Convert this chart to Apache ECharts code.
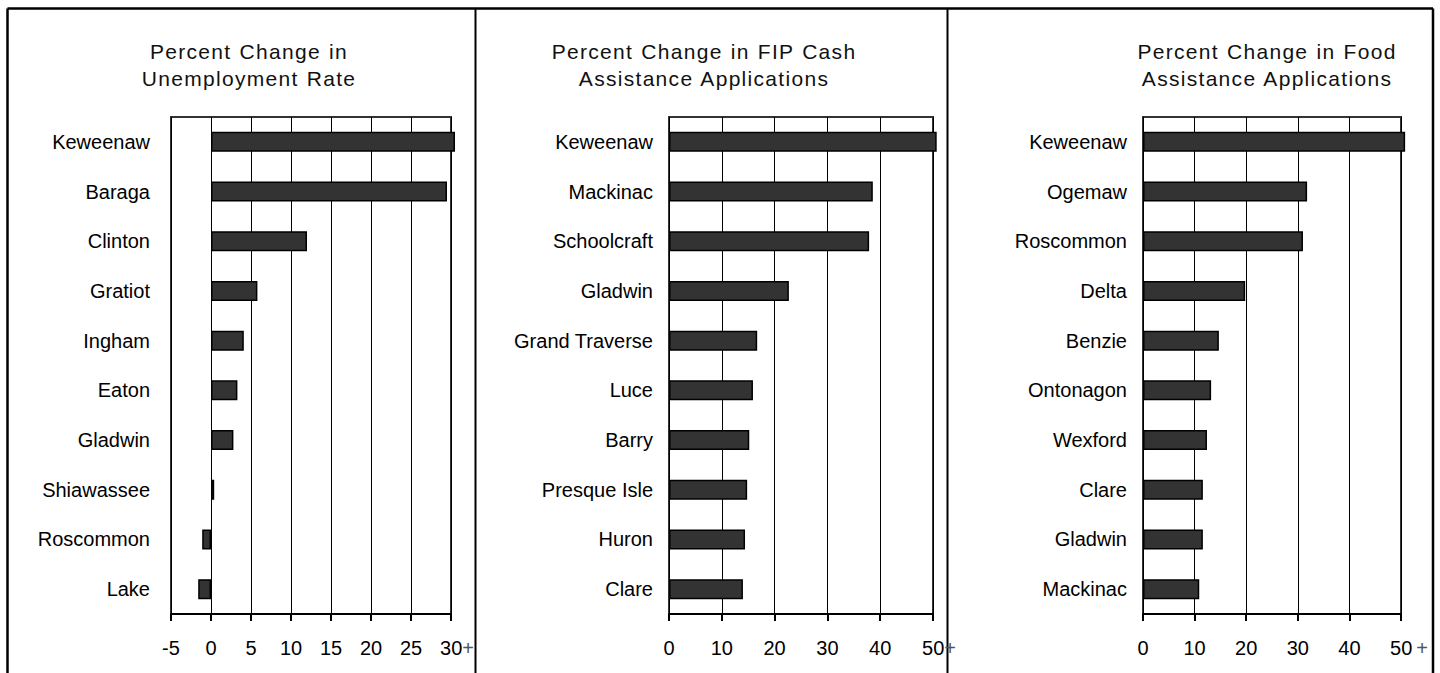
<!DOCTYPE html>
<html>
<head>
<meta charset="utf-8">
<script src="https://cdn.jsdelivr.net/npm/echarts@6/dist/echarts.min.js"></script>
<style>
html,body{margin:0;padding:0;background:#fff;}
#c{width:1440px;height:673px;}
#c text[style*="Liberation Sans"]{letter-spacing:1.3px;word-spacing:1px;}
</style>
</head>
<body>
<div id="c"></div>
<script>
// ---- Data ----
const titles = [
  "Percent Change in\nUnemployment Rate",
  "Percent Change in FIP Cash\nAssistance Applications",
  "Percent Change in Food\nAssistance Applications"
];
const categories1 = ["Keweenaw","Baraga","Clinton","Gratiot","Ingham","Eaton","Gladwin","Shiawassee","Roscommon","Lake"];
const values1 = [30.5, 29.5, 12.0, 5.8, 4.1, 3.3, 2.8, 0.4, -1.1, -1.6];
const categories2 = ["Keweenaw","Mackinac","Schoolcraft","Gladwin","Grand Traverse","Luce","Barry","Presque Isle","Huron","Clare"];
const values2 = [50.7, 38.6, 37.9, 22.7, 16.7, 15.9, 15.2, 14.8, 14.4, 14.0];
const categories3 = ["Keweenaw","Ogemaw","Roscommon","Delta","Benzie","Ontonagon","Wexford","Clare","Gladwin","Mackinac"];
const values3 = [50.8, 31.8, 31.0, 19.8, 14.7, 13.2, 12.4, 11.6, 11.6, 10.9];
const ticks1 = {min: -5, max: 30, interval: 5};
const ticks2 = {min: 0, max: 50, interval: 10};
const ticks3 = {min: 0, max: 50, interval: 10};

const chart = echarts.init(document.getElementById('c'), null, {renderer: 'svg'});

const gridsPos = [
  {left: 171, width: 280, top: 117, height: 497},
  {left: 669, width: 264, top: 117, height: 497},
  {left: 1143, width: 258, top: 117, height: 497}
];
const titlePos = [{x: 244, y: 33}, {x: 699, y: 33}, {x: 1262, y: 33}];
const labelMargins = [21, 16, 16];
const cats = [categories1, categories2, categories3];
const vals = [values1, values2, values3];
const tks = [ticks1, ticks2, ticks3];

const FONT = 'Arial';
function xFormatter(max) {
  return function (v) {
    if (v === max) return '{n|' + v + '}{p|+}';
    return String(v);
  };
}

const option = {
  animation: false,
  backgroundColor: '#fff',
  title: titles.map((t, i) => ({
    text: t,
    left: titlePos[i].x,
    top: titlePos[i].y,
    textAlign: 'center',
    textStyle: {fontFamily: 'Liberation Sans', fontSize: 21, fontWeight: 'normal', color: '#111', lineHeight: 27}
  })),
  grid: gridsPos.map(g => Object.assign({show: true, borderColor: '#333', borderWidth: 2, backgroundColor: '#fff', containLabel: false}, g)),
  xAxis: tks.map((t, i) => ({
    type: 'value', gridIndex: i, min: t.min, max: t.max, interval: t.interval,
    axisLine: {show: true, onZero: false, lineStyle: {color: '#000', width: 2}},
    axisTick: {show: true, length: 7, lineStyle: {color: '#000', width: 2}},
    splitLine: {show: true, lineStyle: {color: '#000', width: 1}},
    axisLabel: {
      margin: 24, color: '#000', fontFamily: FONT, fontSize: 20,
      formatter: xFormatter(t.max),
      rich: {
        n: {fontFamily: FONT, fontSize: 20, lineHeight: 20, color: '#000', padding: [0, 0, 0, i === 2 ? 16 : 12]},
        p: {fontFamily: FONT, fontSize: 20, lineHeight: i === 0 ? 18 : 10, verticalAlign: 'top', color: '#555', padding: [0, 0, 0, i === 2 ? 4 : 0]}
      }
    }
  })),
  yAxis: cats.map((c, i) => ({
    type: 'category', gridIndex: i, data: c, inverse: true,
    axisLine: {show: false}, axisTick: {show: false}, splitLine: {show: false},
    axisLabel: {margin: labelMargins[i], color: '#000', fontFamily: FONT, fontSize: 20}
  })),
  series: vals.map((v, i) => ({
    type: 'bar', xAxisIndex: i, yAxisIndex: i, data: v, barWidth: 20, clip: false,
    itemStyle: {color: '#333333', borderColor: '#000', borderWidth: 1.5}
  })),
  graphic: [
    {type: 'line', shape: {x1: 7.5, y1: 8.5, x2: 7.5, y2: 673}, style: {stroke: '#000', lineWidth: 2.5}},
    {type: 'line', shape: {x1: 7.5, y1: 8.5, x2: 1433, y2: 8.5}, style: {stroke: '#000', lineWidth: 2.5}},
    {type: 'line', shape: {x1: 1433, y1: 8.5, x2: 1433, y2: 673}, style: {stroke: '#000', lineWidth: 2.5}},
    {type: 'line', shape: {x1: 475.5, y1: 8.5, x2: 475.5, y2: 673}, style: {stroke: '#000', lineWidth: 2}},
    {type: 'line', shape: {x1: 947.5, y1: 8.5, x2: 947.5, y2: 673}, style: {stroke: '#000', lineWidth: 2}}
  ]
};
chart.setOption(option);
</script>
</body>
</html>
